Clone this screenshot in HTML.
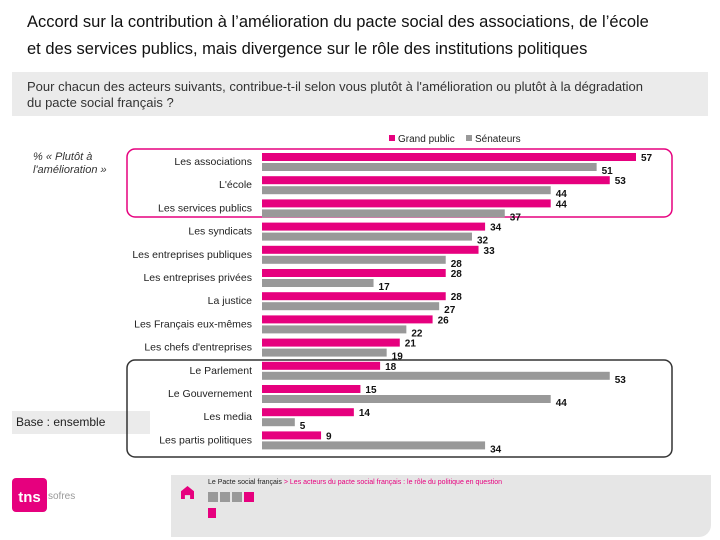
<!DOCTYPE html>
<html><head><meta charset="utf-8"><style>
body{margin:0;width:720px;height:540px;background:#fff;font-family:"Liberation Sans",sans-serif;position:relative;overflow:hidden}
.a{position:absolute}
</style></head><body>
<div class="a" style="left:27px;top:9px;font-size:16.5px;line-height:27px;color:#111;width:700px;white-space:nowrap">Accord sur la contribution à l’amélioration du pacte social des associations, de l’école<br>et des services publics, mais divergence sur le rôle des institutions politiques</div>
<div class="a" style="left:12px;top:72px;width:696px;height:44px;background:#ebebeb"></div>
<div class="a" style="left:27px;top:79px;font-size:13px;line-height:16px;color:#333;width:690px;white-space:nowrap">Pour chacun des acteurs suivants, contribue-t-il selon vous plutôt à l'amélioration ou plutôt à la dégradation<br>du pacte social français ?</div>
<div class="a" style="left:33px;top:151px;font-size:11px;font-style:italic;line-height:13px;color:#333;width:90px">% « Plutôt à l'amélioration »</div>
<div class="a" style="left:12px;top:411px;width:138px;height:23px;background:#ebebeb;font-size:12px;line-height:23px;color:#222;text-indent:4px">Base : ensemble</div>
<svg class="a" style="left:0;top:0" width="720" height="540" id="chart"></svg>
<div class="a" style="left:171px;top:475px;width:540px;height:62px;background:#e6e6e6;border-radius:0 0 12px 0"></div>
<div class="a" style="left:208px;top:479px;font-size:7px;color:#222">Le Pacte social français <span style="color:#e6007e">&gt; Les acteurs du pacte social français : le rôle du politique en question</span></div>
<div class="a" style="left:181px;top:486px;width:13px;height:13px;background:#e6007e;clip-path:polygon(50% 0,100% 40%,100% 100%,70% 100%,70% 70%,30% 70%,30% 100%,0 100%,0 40%)"></div>
<div class="a" style="left:208px;top:489px">
<span style="display:inline-block;width:10px;height:10px;background:#999;margin-right:2px"></span><span style="display:inline-block;width:10px;height:10px;background:#999;margin-right:2px"></span><span style="display:inline-block;width:10px;height:10px;background:#999;margin-right:2px"></span><span style="display:inline-block;width:10px;height:10px;background:#e6007e"></span></div>
<div class="a" style="left:208px;top:508px;width:8px;height:10px;background:#e6007e"></div>
<div class="a" style="left:12px;top:478px;width:35px;height:34px;background:#e6007e;border-radius:4px;color:#fff;font-weight:bold;font-size:15px;line-height:40px;text-align:center">tns</div>
<div class="a" style="left:48px;top:491px;font-size:10px;color:#999">sofres</div>
<script>
const categories=["Les associations","L'école","Les services publics","Les syndicats","Les entreprises publiques","Les entreprises privées","La justice","Les Français eux-mêmes","Les chefs d'entreprises","Le Parlement","Le Gouvernement","Les media","Les partis politiques"];
const grandPublic=[57,53,44,34,33,28,28,26,21,18,15,14,9];
const senateurs=[51,44,37,32,28,17,27,22,19,53,44,5,34];
const seriesNames=["Grand public","Sénateurs"];
const svg=document.getElementById('chart');const NS='http://www.w3.org/2000/svg';
function x(v){return 262+v*374/57;}
function y(i){return 153+i*23.2;}
function mk(t,a,txt){const e=document.createElementNS(NS,t);for(const k in a)e.setAttribute(k,a[k]);if(txt!=null)e.textContent=txt;svg.appendChild(e);return e;}
let e;
e=mk('rect',{x:127,y:149,width:545,height:68,rx:8,fill:'none',stroke:'#e6007e','stroke-width':1.5});


e=mk('rect',{x:127,y:360,width:545,height:97,rx:8,fill:'none',stroke:'#333','stroke-width':1.5});


categories.forEach((c,i)=>{
 e=mk('text',{x:252,y:y(i)+12,'text-anchor':'end','font-size':10.5,fill:'#222'},c);
 
 
 e=mk('rect',{x:262,y:y(i),width:x(grandPublic[i])-262,height:8,fill:'#e6007e'});
 
 
 e=mk('rect',{x:262,y:y(i)+10,width:x(senateurs[i])-262,height:8,fill:'#999'});
 
 
 e=mk('text',{x:x(grandPublic[i])+5,y:y(i)+8,'font-size':10,'font-weight':'bold',fill:'#111'},grandPublic[i]);
 
 
 e=mk('text',{x:x(senateurs[i])+5,y:y(i)+21,'font-size':10,'font-weight':'bold',fill:'#111'},senateurs[i]);
 
 
});
e=mk('rect',{x:389,y:135,width:6,height:6,fill:'#e6007e'});


e=mk('text',{x:398,y:142,'font-size':10,fill:'#222'},seriesNames[0]);


e=mk('rect',{x:466,y:135,width:6,height:6,fill:'#999'});


e=mk('text',{x:475,y:142,'font-size':10,fill:'#222'},seriesNames[1]);


</script>
</body></html>
